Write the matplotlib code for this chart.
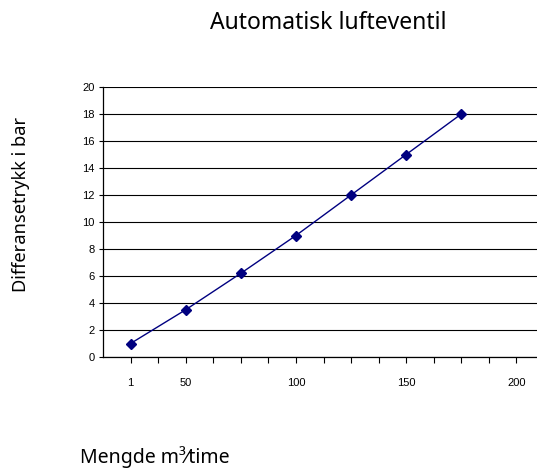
import matplotlib.pyplot as plt
import numpy as np

# Flow categories and differential pressure readings
categories = ["1", "50", "", "100", "", "150", "", "200"]
pressure = [1, 3.5, 6.2, 9, 12, 15, 18]
yticks = [0, 2, 4, 6, 8, 10, 12, 14, 16, 18, 20]

text_font = ['Noto Sans', 'DejaVu Sans']

fig = plt.figure(figsize=(5.37, 4.71), dpi=100)
ax = fig.add_axes([103 / 537, 114 / 471, 441 / 537, 270 / 471])

x = np.arange(len(pressure))
ax.plot(x, pressure, color='#000080', lw=1, marker='D', ms=5.5, zorder=3)

ax.set_xlim(-0.5, 7.5)
ax.set_ylim(0, 20)
ax.set_yticks(yticks)
ax.set_yticklabels([str(v) for v in yticks], fontsize=8, family='Liberation Sans')
ax.set_xticks(np.arange(len(categories)))
ax.set_xticklabels(categories, fontsize=8, family='Liberation Sans')
ax.set_xticks(np.arange(len(categories)) + 0.5, minor=True)
ax.tick_params(axis='x', which='both', direction='out', length=4, width=0.8, pad=11)
ax.tick_params(axis='y', direction='out', length=3, width=0.8, pad=3)

ax.grid(axis='y', color='black', lw=0.8)
ax.set_axisbelow(True)
for s in ['top', 'right']:
    ax.spines[s].set_visible(False)
for s in ['left', 'bottom']:
    ax.spines[s].set_color('black')
    ax.spines[s].set_linewidth(0.9)

fig.text(0.611, 0.951, "Automatisk lufteventil", ha='center', va='center',
         fontsize=16.5, family=text_font)
fig.text(0.040, 0.565, "Differansetrykk i bar", ha='center', va='center',
         rotation=90, fontsize=13.2, family=text_font)
fig.text(0.149, 0.030, "Mengde m³⁄time", ha='left', va='center',
         fontsize=14, family=text_font)

fig.savefig('out.png', dpi=100)
